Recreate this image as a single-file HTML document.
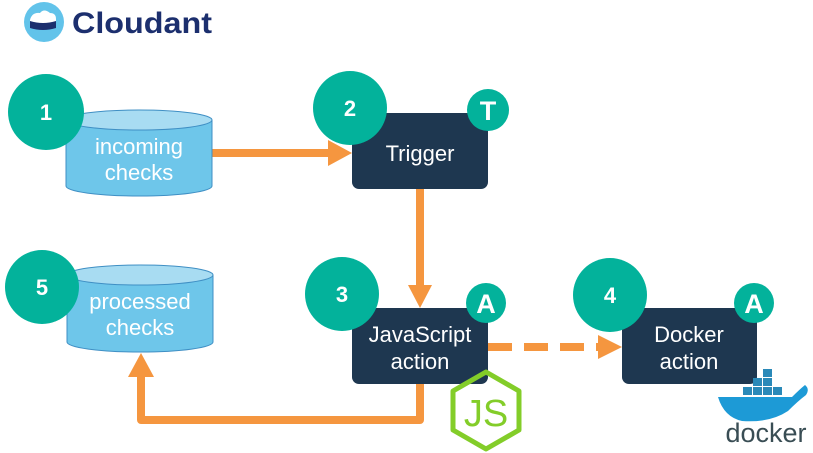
<!DOCTYPE html>
<html><head><meta charset="utf-8"><style>
html,body{margin:0;padding:0;background:#fff;}
svg{display:block;}
text{font-family:"Liberation Sans",sans-serif;}
</style></head><body>
<svg width="813" height="453" viewBox="0 0 813 453" xmlns="http://www.w3.org/2000/svg">
<!-- Cloudant logo -->
<circle cx="44" cy="22" r="20" fill="#62c3ea"/>
<path d="M30 20 q2-8 10-7 q4-5 10 0 q6 0 6 6 l0 8 q-13 4-26 0z" fill="#fff"/>
<path d="M30 21 q13 4 26 0 l0 7 q-13 4-26 0z" fill="#1c2f6e"/>
<text x="72" y="33" font-size="30" font-weight="bold" fill="#1c2f6e" textLength="140" lengthAdjust="spacingAndGlyphs">Cloudant</text>

<!-- Orange connectors -->
<g stroke="#f5963f" stroke-width="8" fill="none">
<line x1="212" y1="153" x2="332" y2="153"/>
<line x1="420" y1="189" x2="420" y2="287"/>
<line x1="488" y1="347" x2="600" y2="347" stroke-dasharray="24,12"/>
<polyline points="420,384 420,420 141,420 141,375" stroke-linejoin="round"/>
</g>
<g fill="#f5963f">
<polygon points="328,140 352,153 328,166"/>
<polygon points="408,285 420,308 432,285"/>
<polygon points="598,335 622,347 598,359"/>
<polygon points="128,377 141,353 154,377"/>
</g>

<!-- Cylinders -->
<g stroke="#3f8fc4" stroke-width="1">
<path d="M66 120 L66 186 A73 10 0 0 0 212 186 L212 120" fill="#6ec6ea"/>
<ellipse cx="139" cy="120" rx="73" ry="10" fill="#a8dcf2"/>
<path d="M67 275 L67 342 A73 10 0 0 0 213 342 L213 275" fill="#6ec6ea"/>
<ellipse cx="140" cy="275" rx="73" ry="10" fill="#a8dcf2"/>
</g>
<g fill="#fff" font-size="22" text-anchor="middle">
<text x="139" y="154">incoming</text>
<text x="139" y="180">checks</text>
<text x="140" y="309">processed</text>
<text x="140" y="335">checks</text>
</g>

<!-- Boxes -->
<g fill="#1e3750">
<rect x="352" y="113" width="136" height="76" rx="7"/>
<rect x="352" y="308" width="136" height="76" rx="7"/>
<rect x="622" y="308" width="135" height="76" rx="7"/>
</g>
<g fill="#fff" font-size="22" text-anchor="middle">
<text x="420" y="161">Trigger</text>
<text x="420" y="342">JavaScript</text>
<text x="420" y="369">action</text>
<text x="689" y="342">Docker</text>
<text x="689" y="369">action</text>
</g>

<!-- Teal circles -->
<g fill="#03b29b">
<circle cx="46" cy="112" r="38"/>
<circle cx="350" cy="108" r="37"/>
<circle cx="42" cy="287" r="37"/>
<circle cx="342" cy="294" r="37"/>
<circle cx="610" cy="295" r="37"/>
<circle cx="488" cy="110" r="21"/>
<circle cx="486" cy="303" r="20"/>
<circle cx="754" cy="303" r="20"/>
</g>
<g fill="#fff" font-weight="bold" text-anchor="middle">
<text x="46" y="120" font-size="22">1</text>
<text x="350" y="116" font-size="22">2</text>
<text x="42" y="295" font-size="22">5</text>
<text x="342" y="302" font-size="22">3</text>
<text x="610" y="303" font-size="22">4</text>
<text x="488" y="120" font-size="27">T</text>
<text x="486" y="313" font-size="27">A</text>
<text x="754" y="313" font-size="27">A</text>
</g>

<!-- Node JS logo -->
<polygon points="486,372 519,391 519,430 486,449 453,430 453,391" fill="none" stroke="#83cd29" stroke-width="5" stroke-linejoin="round"/>
<text x="486" y="426" font-size="38" fill="#83cd29" text-anchor="middle">JS</text>

<!-- Docker logo -->
<g fill="#2a89b8">
<rect x="763" y="369" width="9" height="8"/>
<rect x="753" y="378" width="9" height="8"/><rect x="763" y="378" width="9" height="8"/>
<rect x="743" y="387" width="9" height="8"/><rect x="753" y="387" width="9" height="8"/><rect x="763" y="387" width="9" height="8"/><rect x="773" y="387" width="9" height="8"/>
</g>
<path d="M724 397 L792 397 q8-8 13-12 q5 4 1 10 q-8 6-18 16 q-18 12-46 10 q-18-4-24-24z" fill="#1d9ad6"/>
<text x="766" y="442" font-size="27" fill="#394d54" text-anchor="middle">docker</text>
</svg>
</body></html>
